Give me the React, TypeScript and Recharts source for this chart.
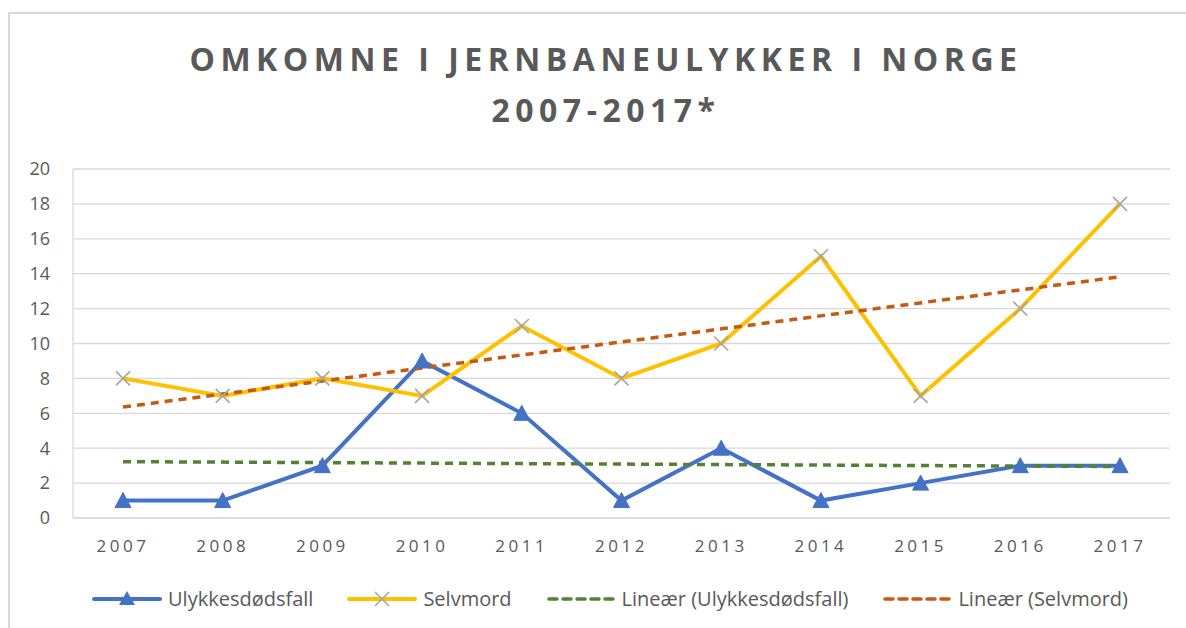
import { LineChart, Line, XAxis, YAxis, CartesianGrid } from "recharts";

const years = ["2007", "2008", "2009", "2010", "2011", "2012", "2013", "2014", "2015", "2016", "2017"];
const ulykker = [1, 1, 3, 9, 6, 1, 4, 1, 2, 3, 3];
const selvmord = [8, 7, 8, 7, 11, 8, 10, 15, 7, 12, 18];
// trend lines: start and end only, drawn straight between
const trendUlykker = [3.23, null, null, null, null, null, null, null, null, null, 2.95];
const trendSelvmord = [6.36, null, null, null, null, null, null, null, null, null, 13.82];
const yTicks = [0, 2, 4, 6, 8, 10, 12, 14, 16, 18, 20];

const data = years.map((year, i) => ({
  year,
  ulykker: ulykker[i],
  selvmord: selvmord[i],
  trendU: trendUlykker[i],
  trendS: trendSelvmord[i],
}));

const BLUE = "#4472C4";
const YELLOW = "#FFC000";
const GREY = "#A5A5A5";
const GREEN = "#548235";
const ORANGE = "#C55A11";
const TEXT = "#595959";
const FONT = "'Open Sans', sans-serif";

const Triangle = (props: any) => {
  const { cx, cy } = props;
  if (cx == null || cy == null) return null;
  return <polygon points={`${cx},${cy - 8} ${cx + 8},${cy + 7} ${cx - 8},${cy + 7}`} fill={BLUE} stroke={BLUE} strokeWidth={1} />;
};

const Cross = (props: any) => {
  const { cx, cy } = props;
  if (cx == null || cy == null) return null;
  return (
    <g stroke={GREY} strokeWidth={1.6}>
      <line x1={cx - 7} y1={cy - 7} x2={cx + 7} y2={cy + 7} />
      <line x1={cx - 7} y1={cy + 7} x2={cx + 7} y2={cy - 7} />
    </g>
  );
};

function LegendItem({ kind, label }: { kind: string; label: string }) {
  let icon;
  if (kind === "blue") {
    icon = (
      <svg width={70} height={20}>
        <line x1={2} y1={10} x2={68} y2={10} stroke={BLUE} strokeWidth={4} strokeLinecap="round" />
        <polygon points="35,2 43,16 27,16" fill={BLUE} />
      </svg>
    );
  } else if (kind === "yellow") {
    icon = (
      <svg width={70} height={20}>
        <line x1={2} y1={10} x2={68} y2={10} stroke={YELLOW} strokeWidth={4} strokeLinecap="round" />
        <g stroke={GREY} strokeWidth={1.6}>
          <line x1={28} y1={3} x2={42} y2={17} />
          <line x1={28} y1={17} x2={42} y2={3} />
        </g>
      </svg>
    );
  } else {
    const c = kind === "green" ? GREEN : ORANGE;
    icon = (
      <svg width={70} height={20}>
        <line x1={3} y1={10} x2={67} y2={10} stroke={c} strokeWidth={3.5} strokeDasharray="8 6" strokeLinecap="round" />
      </svg>
    );
  }
  return (
    <div style={{ display: "flex", alignItems: "center", gap: 6 }}>
      {icon}
      <span>{label}</span>
    </div>
  );
}

export default function App() {
  return (
    <div style={{ position: "fixed", left: 0, top: 0, width: 1186, height: 628, background: "#fff", overflow: "hidden", fontFamily: FONT }}>
      <div style={{ position: "absolute", left: 8, top: 12, width: 1300, height: 800, border: "2px solid #D9D9D9" }} />
      <div
        style={{
          position: "absolute",
          left: 0,
          top: 33,
          width: 1212,
          textAlign: "center",
          color: TEXT,
          fontWeight: 700,
          fontSize: 32,
          letterSpacing: 5.5,
          lineHeight: "51px",
        }}
      >
        OMKOMNE I JERNBANEULYKKER I NORGE
        <br />
        2007-2017*
      </div>
      <div style={{ position: "absolute", left: 0, top: 0 }}>
        <LineChart width={1186} height={628} data={data} margin={{ top: 169, right: 16, left: 0, bottom: 70 }}>
          <CartesianGrid vertical={false} stroke="#D9D9D9" strokeWidth={1.3} />
          <XAxis
            dataKey="year"
            padding={{ left: 50, right: 50 }}
            axisLine={{ stroke: "#D9D9D9", strokeWidth: 1.3 }}
            tickLine={false}
            height={40}
            tickMargin={16}
            tick={{ fontSize: 17, fill: TEXT, fontFamily: FONT, letterSpacing: 3.5 }}
          />
          <YAxis
            domain={[0, 20]}
            ticks={yTicks}
            width={73}
            axisLine={{ stroke: "#D9D9D9", strokeWidth: 1.3 }}
            tickLine={false}
            tickMargin={17}
            tick={{ fontSize: 18, fill: TEXT, fontFamily: FONT }}
          />
          <Line dataKey="ulykker" stroke={BLUE} strokeWidth={4} dot={<Triangle />} activeDot={false} isAnimationActive={false} />
          <Line dataKey="selvmord" stroke={YELLOW} strokeWidth={4} dot={<Cross />} activeDot={false} isAnimationActive={false} />
          <Line dataKey="trendU" type="linear" connectNulls stroke={GREEN} strokeWidth={3.5} strokeDasharray="8 6" dot={false} activeDot={false} isAnimationActive={false} />
          <Line dataKey="trendS" type="linear" connectNulls stroke={ORANGE} strokeWidth={3.5} strokeDasharray="8 6" dot={false} activeDot={false} isAnimationActive={false} />
        </LineChart>
      </div>
      <div
        style={{
          position: "absolute",
          left: 17,
          top: 585,
          width: 1186,
          display: "flex",
          justifyContent: "center",
          gap: 34,
          color: TEXT,
          fontSize: 20,
        }}
      >
        <LegendItem kind="blue" label="Ulykkesdødsfall" />
        <LegendItem kind="yellow" label="Selvmord" />
        <LegendItem kind="green" label="Lineær (Ulykkesdødsfall)" />
        <LegendItem kind="orange" label="Lineær (Selvmord)" />
      </div>
    </div>
  );
}
